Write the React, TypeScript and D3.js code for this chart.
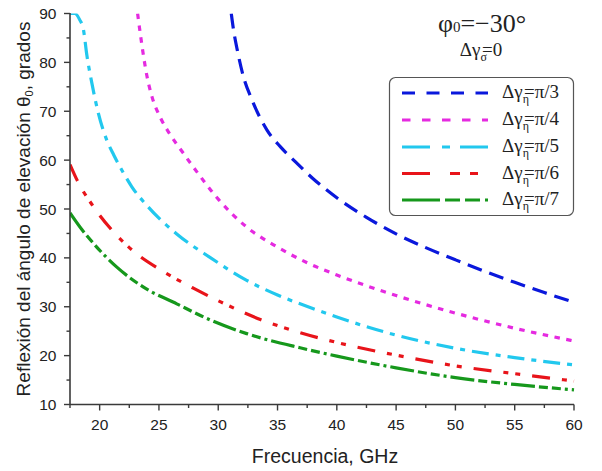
import React from 'react';
import * as d3 from 'd3';

const W = 602;
const H = 471;

const xTicks = [20, 25, 30, 35, 40, 45, 50, 55, 60];
const xMinor = [17.5, 22.5, 27.5, 32.5, 37.5, 42.5, 47.5, 52.5, 57.5];
const yTicks = [10, 20, 30, 40, 50, 60, 70, 80, 90];
const yMinor = [15, 25, 35, 45, 55, 65, 75, 85];

const seriesLabels = ['π/3', 'π/4', 'π/5', 'π/6', 'π/7'];

const blueF = [31.1, 31.3, 31.6, 32.1, 32.85, 34.1, 35.25, 36.4, 38, 40, 42.5, 45, 47.5, 50, 52.5, 55, 57.5, 60];
const blueT = [90, 86.5, 82.6, 77.3, 72.3, 66.2, 62.7, 59.9, 56.2, 52.3, 48.3, 44.9, 42.1, 39.6, 37.2, 35.0, 32.9, 30.9];

const magentaF = [23.2, 23.42, 23.7, 23.98, 24.41, 25.1, 25.9, 27.0, 28.2, 29.9, 32.4, 35.0, 37.5, 40, 45, 50, 55, 60];
const magentaT = [90, 86.0, 81.3, 77.3, 73.0, 68.8, 65.4, 61.6, 57.6, 52.3, 46.3, 42.2, 39.0, 36.5, 32.3, 28.7, 25.6, 23.0];

const cyanF = [17.5, 17.9, 18.3, 18.64, 18.92, 19.34, 19.9, 20.6, 21.2, 22.0, 22.7, 24.1, 26.5, 29.3, 32.4, 35.0, 37.8, 40, 45, 50, 55, 60];
const cyanT = [90, 90, 88.8, 86.6, 81.5, 75.8, 69.5, 64.1, 61.0, 57.4, 54.6, 50.4, 44.9, 40.1, 35.4, 32.4, 29.8, 27.9, 24.2, 21.5, 19.6, 18.1];

const redF = [17.5, 18.1, 19.5, 21.17, 23.14, 25.1, 27.9, 30.2, 33.55, 36.9, 40, 45, 50, 55, 60];
const redT = [59.1, 55.9, 50.4, 45.3, 40.8, 37.6, 33.8, 31.0, 27.4, 24.7, 22.7, 20.1, 17.9, 16.3, 14.8];

const greenF = [17.5, 18.5, 19.5, 21.45, 23.7, 26.5, 29.33, 32.4, 36.9, 40, 45, 50, 55, 60];
const greenT = [49.2, 45.8, 42.9, 38.1, 34.0, 30.6, 27.3, 24.5, 21.6, 19.9, 17.5, 15.5, 14.1, 13.0];

const seriesF = [blueF, magentaF, cyanF, redF, greenF];
const seriesT = [blueT, magentaT, cyanT, redT, greenT];

const colors = ['#0a18dc', '#e52ae0', '#22c8ee', '#e8141a', '#16981c'];
const dashes = ['15 8', '5.5 6.5', '17 7 5 7', '18 12 5 7 5 12', '24 4 9 4 9 4 3 4'];
const legendDashes = ['13 11.5', '8.5 11.5', '28 12 8 10', '28 20 10 10 8 100', '38 5 15 5 15 5 5 100'];

const SANS = '"Liberation Sans", Arial, sans-serif';
const SERIF = '"Liberation Serif", "Times New Roman", serif';

export default function App() {
  const x = d3.scaleLinear().domain([17.5, 60]).range([70, 574]);
  const y = d3.scaleLinear().domain([10, 90]).range([404.5, 13.5]);
  const line = d3
    .line<[number, number]>()
    .x((d) => x(d[0]))
    .y((d) => y(d[1]))
    .curve(d3.curveMonotoneX);

  const axisColor = '#3a3a3a';
  const x0 = x.range()[0];
  const y0 = y.range()[0];

  const lgX0 = 402;
  const lgX1 = 488;
  const lgRows = [93, 120, 147, 173.5, 200];

  return (
    <svg
      width={W}
      height={H}
      style={{ position: 'absolute', left: 0, top: 0, background: '#fff' }}
    >
      <defs>
        <clipPath id="plotClip">
          <rect x={x0} y={y(90)} width={x(60) - x0 + 4} height={y0 - y(90)} />
        </clipPath>
      </defs>
      <rect x={0} y={0} width={W} height={H} fill="#fff" />

      <g clipPath="url(#plotClip)">
        {seriesF.map((fs, i) => (
          <path
            key={i}
            d={line(fs.map((f, j) => [f, seriesT[i][j]] as [number, number])) || ''}
            fill="none"
            stroke={colors[i]}
            strokeWidth={3.2}
            strokeDasharray={dashes[i]}
          />
        ))}
      </g>

      {/* axes */}
      <line x1={x0} x2={x0} y1={y(90) - 0.5} y2={y0} stroke={axisColor} strokeWidth={1.6} />
      <line x1={x0} x2={x(60)} y1={y0} y2={y0} stroke={axisColor} strokeWidth={1.6} />

      {xTicks.map((t) => (
        <g key={'xt' + t}>
          <line x1={x(t)} x2={x(t)} y1={y0} y2={y0 + 6} stroke={axisColor} strokeWidth={1.4} />
          <text
            x={x(t)}
            y={430}
            textAnchor="middle"
            fontFamily={SANS}
            fontSize={15.5}
            fill="#222"
          >
            {t}
          </text>
        </g>
      ))}
      {xMinor.map((t) => (
        <line key={'xm' + t} x1={x(t)} x2={x(t)} y1={y0} y2={y0 + 3.5} stroke={axisColor} strokeWidth={1.4} />
      ))}
      {yTicks.map((t) => (
        <g key={'yt' + t}>
          <line x1={x0 - 6} x2={x0} y1={y(t)} y2={y(t)} stroke={axisColor} strokeWidth={1.4} />
          <text
            x={56.5}
            y={y(t)}
            dy="0.36em"
            textAnchor="end"
            fontFamily={SANS}
            fontSize={15.5}
            fill="#222"
          >
            {t}
          </text>
        </g>
      ))}
      {yMinor.map((t) => (
        <line key={'ym' + t} x1={x0 - 3.5} x2={x0} y1={y(t)} y2={y(t)} stroke={axisColor} strokeWidth={1.4} />
      ))}

      {/* axis titles */}
      <text x={325} y={463} textAnchor="middle" fontFamily={SANS} fontSize={19.5} fill="#222">
        Frecuencia, GHz
      </text>
      <text
        transform={`translate(30, ${(y(90) + y0) / 2}) rotate(-90)`}
        textAnchor="middle"
        fontFamily={SANS}
        fontSize={19}
        fill="#222"
      >
        Reflexión del ángulo de elevación θ
        <tspan fontSize={11} dy={3}>0</tspan>
        <tspan dy={-3}>, grados</tspan>
      </text>

      {/* annotation */}
      <text x={482} y={32} textAnchor="middle" fontFamily={SERIF} fontSize={26} fill="#222">
        φ<tspan fontSize={15}>0</tspan>=−30°
      </text>
      <text x={481} y={56} textAnchor="middle" fontFamily={SERIF} fontSize={19} fill="#222">
        Δγ<tspan fontSize={12} dy={5}>σ</tspan>
        <tspan dx={-5} dy={-5}>=0</tspan>
      </text>

      {/* legend */}
      <rect x={389.5} y={77.5} width={184} height={138} rx={6} ry={6} fill="#fff" stroke="#555" strokeWidth={1.2} />
      {seriesLabels.map((lab, i) => (
        <g key={'lg' + i}>
          <line
            x1={lgX0}
            x2={lgX1}
            y1={lgRows[i]}
            y2={lgRows[i]}
            stroke={colors[i]}
            strokeWidth={3.2}
            strokeDasharray={legendDashes[i]}
          />
          <text x={502} y={lgRows[i] + 5} fontFamily={SERIF} fontSize={19} fill="#222">
            Δγ<tspan fontSize={12} dy={5}>η</tspan>
            <tspan dx={-5} dy={-5}>={lab}</tspan>
          </text>
        </g>
      ))}
    </svg>
  );
}
